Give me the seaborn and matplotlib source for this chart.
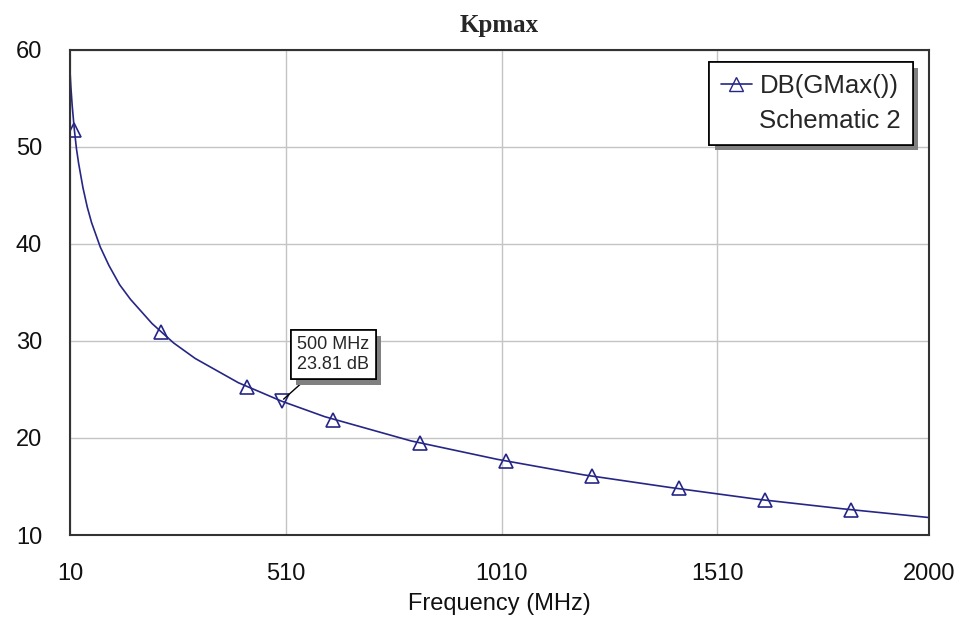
import matplotlib
matplotlib.use("Agg")
import matplotlib.pyplot as plt
import matplotlib.patheffects as pe
from matplotlib.lines import Line2D
import pandas as pd
import seaborn as sns

# curve values (MHz, dB)
freq = [10, 12, 15, 20, 25, 30, 40, 50, 60, 80, 100, 125, 150, 200, 250,
        300, 400, 500, 600, 800, 1000, 1200, 1400, 1600, 1800, 2000]
gmax_db = [57.8, 56.2, 54.3, 51.8, 49.8, 48.3, 45.8, 43.8, 42.2, 39.7, 37.8,
           35.8, 34.3, 31.8, 29.8, 28.2, 25.7, 23.8, 22.2, 19.7, 17.8, 16.2,
           14.9, 13.7, 12.7, 11.8]

# triangle markers along the trace
marker_freq = [20, 220, 420, 620, 820, 1020, 1220, 1420, 1620, 1820]
marker_db = [51.8, 30.9, 25.3, 21.9, 19.5, 17.6, 16.1, 14.8, 13.6, 12.6]

# marker readout
mark_freq = 500
mark_db = 23.81

x_ticks = [10, 510, 1010, 1510, 2000]
y_ticks = [10, 20, 30, 40, 50, 60]

NAVY = "#262686"

sns.set_theme(style="whitegrid")
plt.rcParams["font.family"] = ["Liberation Sans", "DejaVu Sans"]

df = pd.DataFrame({"freq": freq, "db": gmax_db})
dm = pd.DataFrame({"freq": marker_freq, "db": marker_db})

fig, ax = plt.subplots(figsize=(9.63, 6.25), dpi=100)
fig.subplots_adjust(left=0.0727, right=0.9647, top=0.92, bottom=0.144)

sns.lineplot(data=df, x="freq", y="db", ax=ax, color=NAVY, linewidth=1.2)
sns.lineplot(data=dm, x="freq", y="db", ax=ax, linestyle="", marker="^",
             markersize=10, markerfacecolor="none", markeredgecolor=NAVY,
             markeredgewidth=1.2)
ax.plot([mark_freq], [mark_db], linestyle="", marker="v", markersize=10,
        markerfacecolor="none", markeredgecolor=NAVY, markeredgewidth=1.2)

shadow = [pe.withSimplePatchShadow(offset=(4, -4), shadow_rgbFace="#808080", alpha=1.0),
          pe.Normal()]

ann = ax.annotate(f"{mark_freq} MHz\n{mark_db:.2f} dB",
                  xy=(mark_freq, mark_db), xytext=(620, 28.6),
                  ha="center", va="center", fontsize=13, linespacing=1.2,
                  bbox=dict(boxstyle="square,pad=0.35", fc="white", ec="black", lw=1.2),
                  arrowprops=dict(arrowstyle="-", color="black", lw=1,
                                  shrinkA=0, shrinkB=2))
ann.get_bbox_patch().set_path_effects(shadow)

ax.set_xlim(10, 2000)
ax.set_ylim(10, 60)
ax.set_xticks(x_ticks)
ax.set_yticks(y_ticks)
ax.tick_params(axis="both", length=0, labelsize=17, pad=20, colors="#111111")
ax.grid(True, color="#c4c4c4", linewidth=1)
for s in ax.spines.values():
    s.set_visible(True)
    s.set_color("#333333")
    s.set_linewidth(1.5)

ax.set_xlabel("Frequency (MHz)", fontsize=17, labelpad=6, color="#111111")
ax.set_ylabel("")
ax.set_title("Kpmax", fontsize=18, fontweight="bold", pad=13,
             family=["Liberation Serif", "DejaVu Serif"])

handles = [Line2D([], [], color=NAVY, lw=1.2, marker="^", markersize=10,
                  markerfacecolor="none", markeredgecolor=NAVY),
           Line2D([], [], linestyle="none")]
leg = ax.legend(handles, ["DB(GMax())", "Schematic 2"], loc="upper right",
                bbox_to_anchor=(0.981, 0.975), borderaxespad=0, fontsize=18.5,
                frameon=True, fancybox=False, framealpha=1, handlelength=1.2,
                handletextpad=0.3, labelspacing=0.45, borderpad=0.45)
frame = leg.get_frame()
frame.set_edgecolor("black")
frame.set_linewidth(1.2)
frame.set_path_effects(shadow)

fig.savefig("out.png", dpi=100)
